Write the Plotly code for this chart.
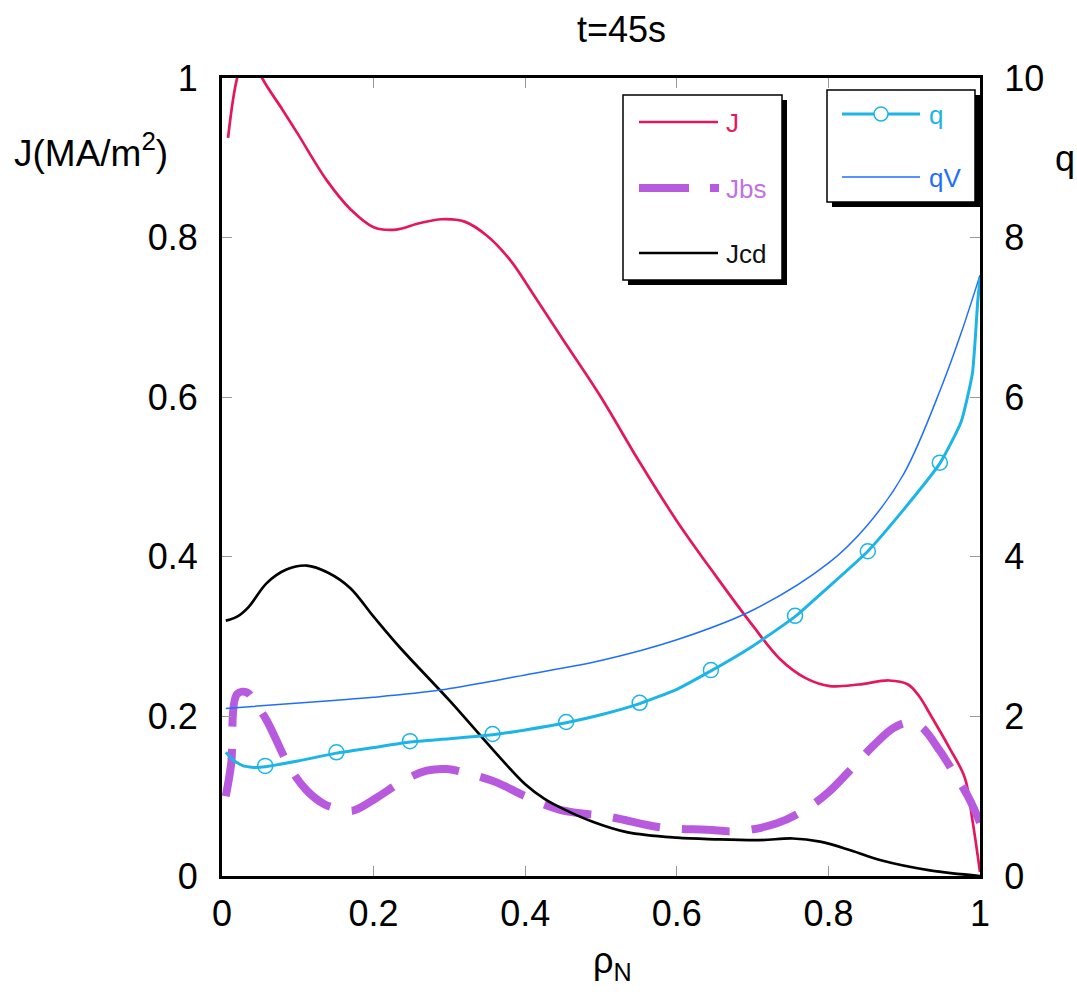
import plotly.graph_objects as go

# ---------------- data ----------------
rho_J = [0.008, 0.02, 0.035, 0.053, 0.08, 0.1, 0.138, 0.17, 0.2, 0.23, 0.26, 0.29, 0.32, 0.35,
         0.38, 0.41, 0.45, 0.5, 0.55, 0.6, 0.65, 0.7, 0.736, 0.77, 0.802, 0.84, 0.88, 0.905,
         0.92, 0.934, 0.96, 0.98, 0.99, 1.0]
J_vals = [0.925, 1.0, 1.04, 1.0, 0.96, 0.93, 0.872, 0.835, 0.813, 0.81, 0.818, 0.823, 0.82, 0.802,
          0.772, 0.73, 0.672, 0.60, 0.52, 0.445, 0.378, 0.314, 0.272, 0.248, 0.238, 0.24, 0.245, 0.24,
          0.225, 0.203, 0.16, 0.123, 0.07, 0.005]

rho_Jbs = [0.005, 0.012, 0.02, 0.033, 0.045, 0.059, 0.09, 0.112, 0.135, 0.156, 0.173, 0.204, 0.24,
           0.27, 0.297, 0.33, 0.363, 0.4, 0.446, 0.512, 0.578, 0.64, 0.679, 0.732, 0.772, 0.8, 0.828,
           0.859, 0.885, 0.904, 0.921, 0.947, 0.965, 0.984, 1.0]
Jbs_vals = [0.10, 0.14, 0.228, 0.23, 0.215, 0.195, 0.135, 0.107, 0.09, 0.084, 0.082, 0.098, 0.12,
            0.132, 0.134, 0.127, 0.117, 0.10, 0.083, 0.074, 0.061, 0.058, 0.056, 0.066, 0.085, 0.105, 0.132,
            0.163, 0.185, 0.192, 0.188, 0.157, 0.13, 0.10, 0.067]

rho_Jcd = [0.005, 0.02, 0.035, 0.059, 0.085, 0.112, 0.14, 0.169, 0.2, 0.235, 0.3, 0.367, 0.4, 0.425, 0.446,
           0.489, 0.534, 0.6, 0.65, 0.71, 0.753, 0.789, 0.83, 0.868, 0.934, 1.0]
Jcd_vals = [0.32, 0.325, 0.337, 0.367, 0.384, 0.389, 0.38, 0.361, 0.325, 0.286, 0.22, 0.148, 0.115, 0.097,
            0.086, 0.068, 0.055, 0.048, 0.046, 0.045, 0.047, 0.043, 0.032, 0.02, 0.007, 0.0]

rho_q = [0.005, 0.015, 0.028, 0.045, 0.057, 0.1, 0.151, 0.2, 0.248, 0.3, 0.357, 0.4, 0.454, 0.5,
         0.551, 0.6, 0.645, 0.7, 0.756, 0.8, 0.852, 0.9, 0.947, 0.975, 0.99, 0.997, 1.0]
q_vals = [1.55, 1.45, 1.38, 1.36, 1.37, 1.44, 1.54, 1.61, 1.68, 1.72, 1.77, 1.83, 1.92, 2.02,
          2.16, 2.34, 2.57, 2.88, 3.25, 3.62, 4.07, 4.6, 5.17, 5.69, 6.3, 7.2, 7.5]

rho_qmark = [0.057, 0.151, 0.248, 0.357, 0.454, 0.551, 0.645, 0.756, 0.852, 0.947]
q_mark = [1.38, 1.55, 1.69, 1.78, 1.93, 2.17, 2.58, 3.26, 4.07, 5.18]

rho_qV = [0.005, 0.147, 0.2, 0.288, 0.367, 0.4, 0.5, 0.6, 0.7, 0.8, 0.85, 0.9, 0.95, 0.975, 1.0]
qV_vals = [2.1, 2.2, 2.24, 2.33, 2.46, 2.52, 2.7, 2.96, 3.33, 3.92, 4.38, 5.05, 6.15, 6.8, 7.53]

x_ticks = [0, 0.2, 0.4, 0.6, 0.8, 1]
y_ticks = [0, 0.2, 0.4, 0.6, 0.8, 1]
y2_ticks = [0, 2, 4, 6, 8, 10]

C_J = "#e5175c"
C_JBS = "#b85ade"
C_JCD = "#000000"
C_Q = "#1db4e8"
C_QV = "#1f6fff"
FONT = "Liberation Sans"

# ---------------- geometry helpers (plot area in pixels) ----------------
L, R, T, B = 222, 980, 78, 876
W, H = 1077, 997


def px(x):
    return (x - L) / (R - L)


def py(y):
    return (B - y) / (B - T)


fig = go.Figure()
fig.add_trace(go.Scatter(x=rho_J, y=J_vals, mode="lines",
                         line=dict(color=C_J, width=2.7, shape="spline", smoothing=1.0), showlegend=False))
fig.add_trace(go.Scatter(x=rho_Jbs, y=Jbs_vals, mode="lines",
                         line=dict(color=C_JBS, width=8, dash="48px,22px", shape="spline", smoothing=1.0),
                         showlegend=False))
fig.add_trace(go.Scatter(x=rho_Jcd, y=Jcd_vals, mode="lines",
                         line=dict(color=C_JCD, width=2.7, shape="spline", smoothing=1.0), showlegend=False))
fig.add_trace(go.Scatter(x=rho_qV, y=qV_vals, mode="lines", yaxis="y2",
                         line=dict(color=C_QV, width=1.5, shape="spline", smoothing=1.0), showlegend=False))
fig.add_trace(go.Scatter(x=rho_q, y=q_vals, mode="lines", yaxis="y2",
                         line=dict(color=C_Q, width=3, shape="spline", smoothing=0.5), showlegend=False))
fig.add_trace(go.Scatter(x=rho_qmark, y=q_mark, mode="markers", yaxis="y2",
                         marker=dict(symbol="circle-open", size=15, color=C_Q, line=dict(width=1.5, color=C_Q)),
                         showlegend=False))

shapes = []
annotations = []

# legend box 1 (J, Jbs, Jcd)
shapes.append(dict(type="rect", xref="paper", yref="paper", x0=px(628), x1=px(787), y0=py(285), y1=py(100),
                   fillcolor="black", line=dict(width=0)))
shapes.append(dict(type="rect", xref="paper", yref="paper", x0=px(623), x1=px(782), y0=py(280), y1=py(95),
                   fillcolor="white", line=dict(color="black", width=1.5)))
shapes.append(dict(type="line", xref="paper", yref="paper", x0=px(639), x1=px(718), y0=py(122), y1=py(122),
                   line=dict(color=C_J, width=2.5)))
shapes.append(dict(type="line", xref="paper", yref="paper", x0=px(639), x1=px(689), y0=py(188), y1=py(188),
                   line=dict(color=C_JBS, width=8)))
shapes.append(dict(type="line", xref="paper", yref="paper", x0=px(710), x1=px(719), y0=py(188), y1=py(188),
                   line=dict(color=C_JBS, width=8)))
shapes.append(dict(type="line", xref="paper", yref="paper", x0=px(639), x1=px(718), y0=py(253), y1=py(253),
                   line=dict(color=C_JCD, width=2.5)))

# legend box 2 (q, qV)
shapes.append(dict(type="rect", xref="paper", yref="paper", x0=px(832), x1=px(980), y0=py(207), y1=py(95),
                   fillcolor="black", line=dict(width=0)))
shapes.append(dict(type="rect", xref="paper", yref="paper", x0=px(827), x1=px(975), y0=py(202), y1=py(90),
                   fillcolor="white", line=dict(color="black", width=1.5)))
shapes.append(dict(type="line", xref="paper", yref="paper", x0=px(842), x1=px(920), y0=py(114), y1=py(114),
                   line=dict(color=C_Q, width=3)))
shapes.append(dict(type="circle", xref="paper", yref="paper", x0=px(874), x1=px(888), y0=py(121), y1=py(107),
                   fillcolor="white", line=dict(color=C_Q, width=1.5)))
shapes.append(dict(type="line", xref="paper", yref="paper", x0=px(842), x1=px(920), y0=py(177), y1=py(177),
                   line=dict(color=C_QV, width=1.5)))

for txt, col, yy in [("J", C_J, 123), ("Jbs", "#c270e2", 189), ("Jcd", "#111111", 254)]:
    annotations.append(dict(text=txt, x=px(724), y=py(yy), xref="paper", yref="paper", xanchor="left",
                            yanchor="middle", showarrow=False, font=dict(family=FONT, size=26, color=col)))
for txt, col, yy in [("q", C_Q, 115), ("qV", C_QV, 178)]:
    annotations.append(dict(text=txt, x=px(927), y=py(yy), xref="paper", yref="paper", xanchor="left",
                            yanchor="middle", showarrow=False, font=dict(family=FONT, size=26, color=col)))

# titles / axis labels
annotations.append(dict(text="t=45s", x=px(621), y=py(29), xref="paper", yref="paper", xanchor="center",
                        yanchor="middle", showarrow=False, font=dict(family=FONT, size=36, color="black")))
annotations.append(dict(text="J(MA/m<sup>2</sup>)", x=px(12), y=py(150), xref="paper", yref="paper",
                        xanchor="left", yanchor="middle", showarrow=False,
                        font=dict(family=FONT, size=37, color="black")))
annotations.append(dict(text="q", x=px(1053), y=py(158), xref="paper", yref="paper", xanchor="left",
                        yanchor="middle", showarrow=False, font=dict(family=FONT, size=36, color="black")))
annotations.append(dict(text="ρ<sub>N</sub>", x=px(612), y=py(963), xref="paper", yref="paper",
                        xanchor="center", yanchor="middle", showarrow=False,
                        font=dict(family=FONT, size=36, color="black")))

axis_common = dict(showgrid=False, zeroline=False, showline=True, linecolor="black", linewidth=3,
                   ticks="inside", ticklen=10, tickwidth=1, tickcolor="#999999",
                   tickfont=dict(family=FONT, size=36, color="black"))

fig.update_layout(
    width=W, height=H, autosize=False,
    margin=dict(l=L, r=W - R, t=T, b=H - B, pad=0),
    paper_bgcolor="white", plot_bgcolor="white",
    showlegend=False,
    xaxis=dict(range=[0, 1], tickvals=x_ticks, ticktext=[f"{v:g}" for v in x_ticks], mirror="ticks",
               ticklabelstandoff=4, **axis_common),
    yaxis=dict(range=[0, 1], tickvals=y_ticks, ticktext=[f"{v:g}" for v in y_ticks],
               ticklabelstandoff=14, **axis_common),
    yaxis2=dict(range=[0, 10], tickvals=y2_ticks, ticktext=[f"{v:g}" for v in y2_ticks], overlaying="y",
                side="right", ticklabelstandoff=14, **axis_common),
    shapes=shapes, annotations=annotations,
)

fig.write_html("out.html")
